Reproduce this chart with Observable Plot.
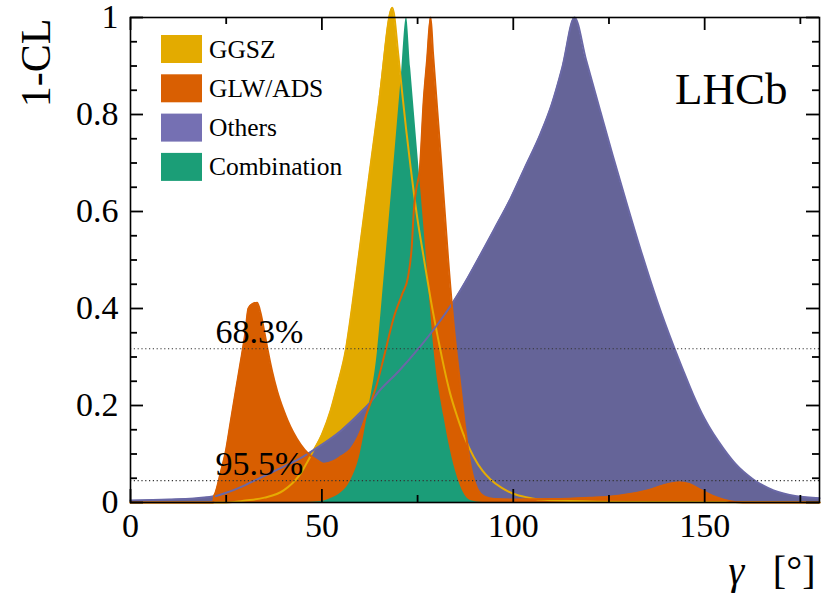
<!DOCTYPE html>
<html><head><meta charset="utf-8">
<script src="https://cdn.jsdelivr.net/npm/d3@7"></script>
<script src="https://cdn.jsdelivr.net/npm/@observablehq/plot@0.6"></script>
<style>body{margin:0;background:#fff}#chart{width:829px;height:593px}</style>
</head><body><div id="chart"></div>
<script>
// ---- data ----
const seriesNames = ["GGSZ", "GLW/ADS", "Others", "Combination"];
const legendColors = ["#e3ab00", "#d95f02", "#7570b3", "#1b9e77"];
const fillColors = {"GGSZ": "#e2aa00", "GLW/ADS": "#d85e00", "Others": "#656498", "Combination": "#1b9d78"};
const lineColors = {"GGSZ": "#e6ab02", "GLW/ADS": "#d95f02", "Others": "#6a68a6"};

const ggszX = [0, 25, 30, 35, 40, 44, 47.8, 50, 52.3, 54, 56.2, 58, 59.5, 62.3, 65, 68.4, 70, 71, 72, 73.2, 74.9, 76.5, 78.4, 81, 82, 83.5, 85.4, 87.5, 89.6, 92, 94, 97, 100, 104, 107, 115, 130, 180];
const ggszY = [0, 0, 0.004, 0.01, 0.025, 0.055, 0.107, 0.14, 0.19, 0.24, 0.313, 0.41, 0.5, 0.67, 0.83, 1.02, 0.92, 0.843, 0.77, 0.69, 0.588, 0.51, 0.42, 0.313, 0.275, 0.225, 0.176, 0.13, 0.095, 0.065, 0.048, 0.03, 0.018, 0.01, 0.006, 0.003, 0.001, 0];

const glwX = [0, 21.6, 21.8, 22.2, 23.5, 25, 26.1, 27.5, 28.7, 30, 30.8, 32, 33.1, 34, 35, 35.7, 37, 38.3, 40, 41, 42.5, 44.4, 46.5, 48.8, 50.5, 53, 55, 57.5, 60, 62, 64.4, 66.2, 68.8, 71, 72.5, 73.5, 74, 75.1, 75.5, 76.6, 77.5, 78.4, 79, 81, 83, 84.5, 86.2, 87.5, 89, 90.5, 92.5, 95, 100, 110, 120, 125, 130, 135, 140, 143.3, 146, 149, 152, 155, 158, 160, 180];
const glwY = [0, 0, 0.012, 0.02, 0.06, 0.11, 0.163, 0.23, 0.286, 0.35, 0.40, 0.41, 0.412, 0.39, 0.35, 0.32, 0.27, 0.23, 0.19, 0.17, 0.145, 0.12, 0.1, 0.087, 0.08, 0.085, 0.095, 0.11, 0.145, 0.19, 0.245, 0.3, 0.382, 0.43, 0.465, 0.53, 0.6, 0.664, 0.68, 0.83, 0.915, 1.0, 0.93, 0.72, 0.5, 0.36, 0.24, 0.15, 0.07, 0.03, 0.012, 0.007, 0.006, 0.007, 0.01, 0.012, 0.017, 0.025, 0.037, 0.042, 0.038, 0.026, 0.014, 0.006, 0.001, 0, 0];

const othersX = [0, 10, 20, 22.6, 25, 30, 35, 40, 45, 48.8, 55, 60, 62.7, 65, 70, 75, 80, 84.5, 88, 91.5, 95, 99.3, 103, 107.1, 110, 112.8, 116, 119, 122.8, 126, 129.8, 133.5, 137.6, 141.9, 144.5, 147, 150, 155, 158, 162.8, 168, 174, 180];
const othersY = [0.004, 0.006, 0.011, 0.014, 0.02, 0.036, 0.055, 0.074, 0.094, 0.113, 0.148, 0.185, 0.207, 0.23, 0.27, 0.315, 0.365, 0.416, 0.462, 0.512, 0.563, 0.627, 0.69, 0.76, 0.82, 0.897, 1.0, 0.913, 0.805, 0.715, 0.612, 0.515, 0.415, 0.322, 0.27, 0.222, 0.172, 0.11, 0.08, 0.047, 0.025, 0.013, 0.009];

const combX = [0, 45, 50, 52.3, 55, 57.5, 60, 61.8, 64.5, 66.2, 68.4, 70.6, 72.1, 73.2, 75.3, 77.5, 79.3, 81.9, 83.5, 85.4, 87, 88.8, 92, 180];
const combY = [0, 0, 0.002, 0.008, 0.02, 0.045, 0.1, 0.176, 0.31, 0.46, 0.66, 0.864, 1.0, 0.895, 0.695, 0.486, 0.313, 0.176, 0.11, 0.052, 0.02, 0.004, 0, 0];

const clLevels = [0.317, 0.045];
const clLabels = ["68.3%", "95.5%"];
const xDomain = [0, 180];
const yDomain = [0, 1];
const xMajorTicks = [0, 50, 100, 150];
const xMinorTicks = [25, 75, 125, 175];
const yMajorTicks = [0, 0.2, 0.4, 0.6, 0.8, 1];
const yMinorTicks = [0.05, 0.1, 0.15, 0.25, 0.3, 0.35, 0.45, 0.5, 0.55, 0.65, 0.7, 0.75, 0.85, 0.9, 0.95];

// ---- build tables ----
const toRows = (name, xs, ys) => xs.map((x, i) => ({series: name, x, y: ys[i]}));
const rows = {
  "GGSZ": toRows("GGSZ", ggszX, ggszY),
  "GLW/ADS": toRows("GLW/ADS", glwX, glwY),
  "Others": toRows("Others", othersX, othersY),
  "Combination": toRows("Combination", combX, combY)
};
const fillOrder = ["GGSZ", "Others", "GLW/ADS", "Combination"];
const lineOrder = ["GGSZ", "Others", "GLW/ADS"];
const font = "Liberation Serif, Times New Roman, serif";

const W = 829, H = 593, mL = 130, mR = 10, mT = 17, mB = 91;
const fw = W - mL - mR, fh = H - mT - mB;
const majorLen = 13, minorLen = 7;
const ySpan = yDomain[1] - yDomain[0], xSpan = xDomain[1] - xDomain[0];
const yLen = px => px / fh * ySpan, xLen = px => px / fw * xSpan;

const marks = [];
for (const s of fillOrder) {
  marks.push(Plot.areaY(rows[s], {x: "x", y: "y", fill: fillColors[s], curve: "monotone-x"}));
}
for (const s of lineOrder) {
  marks.push(Plot.lineY(rows[s], {x: "x", y: "y", stroke: lineColors[s], strokeWidth: 2, curve: "monotone-x"}));
}
marks.push(Plot.ruleY(clLevels, {stroke: "#333", strokeWidth: 1.2, strokeDasharray: "1.2,2.6"}));
marks.push(Plot.text(clLabels, {x: () => 22.2, y: (d, i) => clLevels[i], text: d => d, textAnchor: "start", lineAnchor: "bottom", dy: -6, fontSize: 34, fill: "#000"}));

// inward ticks on all four sides
const tk = {stroke: "#000", strokeWidth: 1.8};
const xTickRules = (ticks, len) => [
  Plot.ruleX(ticks, {x: d => d, y1: yDomain[0], y2: yDomain[0] + yLen(len), ...tk}),
  Plot.ruleX(ticks, {x: d => d, y1: yDomain[1] - yLen(len), y2: yDomain[1], ...tk})
];
const yTickRules = (ticks, len) => [
  Plot.ruleY(ticks, {y: d => d, x1: xDomain[0], x2: xDomain[0] + xLen(len), ...tk}),
  Plot.ruleY(ticks, {y: d => d, x1: xDomain[1] - xLen(len), x2: xDomain[1], ...tk})
];
marks.push(...xTickRules(xMajorTicks, majorLen), ...xTickRules(xMinorTicks, minorLen));
marks.push(...yTickRules(yMajorTicks, majorLen), ...yTickRules(yMinorTicks, minorLen));

// tick labels
const ax = {fontSize: 34, fill: "#000", label: null, tickSize: 0};
marks.push(Plot.axisX(xMajorTicks, {...ax, anchor: "bottom", tickPadding: 10, tickFormat: d => String(d)}));
marks.push(Plot.axisY(yMajorTicks, {...ax, anchor: "left", tickPadding: 12, tickFormat: d => String(d)}));
marks.push(Plot.frame({stroke: "#000", strokeWidth: 1.6}));

// titles
marks.push(Plot.text(["1-CL"], {frameAnchor: "top-left", rotate: -90, textAnchor: "end", lineAnchor: "middle", dx: -94, dy: 1, fontSize: 42, fill: "#000"}));
marks.push(Plot.text(["LHCb"], {frameAnchor: "top-right", textAnchor: "end", lineAnchor: "bottom", dx: -32, dy: 86, fontSize: 45, fill: "#000"}));
marks.push(Plot.text(["γ"], {frameAnchor: "bottom-right", textAnchor: "start", lineAnchor: "bottom", dx: -91, dy: 81, fontSize: 40, fontStyle: "italic", fill: "#000"}));
marks.push(Plot.text(["[°]"], {frameAnchor: "bottom-right", textAnchor: "end", lineAnchor: "bottom", dx: -4, dy: 81, fontSize: 40, fill: "#000"}));

const chart = Plot.plot({
  width: W,
  height: H,
  marginLeft: mL,
  marginRight: mR,
  marginTop: mT,
  marginBottom: mB,
  clip: false,
  style: {fontFamily: font, background: "#fff", overflow: "visible"},
  x: {domain: xDomain, label: null},
  y: {domain: yDomain, label: null},
  marks
});
document.getElementById("chart").appendChild(chart);

// legend inside the frame
const svg = d3.select(chart);
const lg = svg.append("g").attr("font-family", font).attr("text-anchor", "start");
seriesNames.forEach((name, i) => {
  const y0 = 35 + i * 39.3;
  lg.append("rect").attr("x", 161).attr("y", y0).attr("width", 41).attr("height", 28).attr("fill", legendColors[i]);
  lg.append("text").attr("x", 209).attr("y", y0 + 22.5).attr("font-size", 25.5).attr("fill", "#000").attr("text-anchor", "start").text(name);
});
</script>
</body></html>
